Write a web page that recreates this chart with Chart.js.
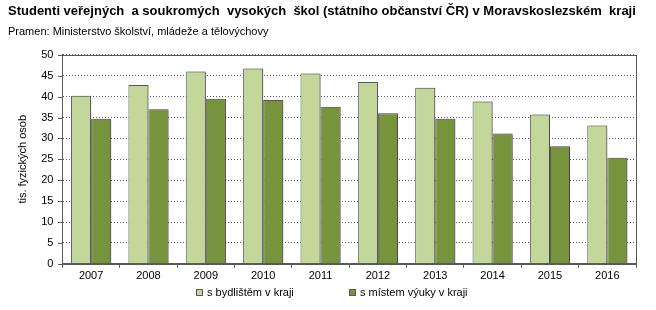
<!DOCTYPE html>
<html>
<head>
<meta charset="utf-8">
<script src="https://cdn.jsdelivr.net/npm/chart.js@4"></script>
<style>
  html, body { margin: 0; padding: 0; background: #fff; }
  #wrap { position: relative; width: 656px; height: 310px; }
  .leg { position: absolute; top: 286px; display: flex; align-items: center;
         font: 11px 'Liberation Sans', Arial, sans-serif; color: #000; white-space: nowrap; }
  .leg i { display: inline-block; width: 5px; height: 5px; border: 1px solid #595959; margin-right: 4px; }
</style>
</head>
<body>
<div id="wrap">
  <canvas id="chart" width="656" height="310"></canvas>
  <div class="leg" style="left:196px"><i id="sw0"></i><span id="lt0"></span></div>
  <div class="leg" style="left:349px"><i id="sw1"></i><span id="lt1"></span></div>
</div>
<script>
// ---------- Data ----------
const years = ["2007", "2008", "2009", "2010", "2011", "2012", "2013", "2014", "2015", "2016"];
const seriesNames = ["s bydlištěm v kraji", "s místem výuky v kraji"];
const residence = [40.2, 42.8, 46.0, 46.7, 45.5, 43.5, 42.1, 38.8, 35.7, 33.1];
const studyPlace = [34.7, 37.0, 39.5, 39.2, 37.6, 36.0, 34.7, 31.2, 28.1, 25.4];
const yTicks = [0, 5, 10, 15, 20, 25, 30, 35, 40, 45, 50];

const FONT = "'Liberation Sans', Arial, sans-serif";
const COLORS = ["#c4d79b", "#77933c"];

// ---------- Legend (HTML) ----------
seriesNames.forEach((name, i) => {
    document.getElementById("sw" + i).style.background = COLORS[i];
    document.getElementById("lt" + i).textContent = name;
});

// ---------- Plot box, y tick marks, bar shadow ----------
const boxPlugin = {
    id: "box",
    beforeDatasetsDraw(chart) {
        const c = chart.ctx;
        c.save();
        c.shadowColor = "rgba(0,0,0,0.28)";
        c.shadowOffsetX = 2;
        c.shadowOffsetY = 0;
        c.shadowBlur = 1;
    },
    afterDatasetsDraw(chart) {
        chart.ctx.restore();
    },
    afterDraw(chart) {
        const { ctx, chartArea: a } = chart;
        const y = chart.scales.y;
        ctx.save();
        ctx.strokeStyle = "#595959";
        ctx.lineWidth = 1;
        ctx.strokeRect(Math.round(a.left) + 0.5, Math.round(a.top) + 0.5,
            Math.round(a.right - a.left), Math.round(a.bottom - a.top));
        ctx.beginPath();
        yTicks.forEach(v => {
            const py = Math.round(y.getPixelForValue(v)) + 0.5;
            ctx.moveTo(Math.round(a.left) - 4, py);
            ctx.lineTo(Math.round(a.left), py);
        });
        ctx.stroke();
        ctx.restore();
    }
};

const ctx = document.getElementById("chart").getContext("2d");

new Chart(ctx, {
    type: "bar",
    data: {
        labels: years,
        datasets: [{
            label: seriesNames[0],
            data: residence,
            backgroundColor: COLORS[0],
            borderColor: "#595959",
            borderWidth: 1
        }, {
            label: seriesNames[1],
            data: studyPlace,
            backgroundColor: COLORS[1],
            borderColor: "#595959",
            borderWidth: 1
        }]
    },
    options: {
        responsive: false,
        animation: false,
        devicePixelRatio: 1,
        layout: { padding: { left: 8, right: 20, top: 4, bottom: 25 } },
        datasets: {
            bar: { categoryPercentage: 0.7, barPercentage: 1.0 }
        },
        plugins: {
            title: {
                display: true,
                text: "Studenti veřejných  a soukromých  vysokých  škol (státního občanství ČR) v Moravskoslezském  kraji",
                align: "start",
                color: "#000",
                font: { family: FONT, size: 13, weight: "bold" },
                padding: { top: 0, bottom: 6 }
            },
            subtitle: {
                display: true,
                text: "Pramen: Ministerstvo školství, mládeže a tělovýchovy",
                align: "start",
                color: "#000",
                font: { family: FONT, size: 11 },
                padding: { top: 0, bottom: 16 }
            },
            legend: { display: false },
            tooltip: { enabled: false }
        },
        scales: {
            x: {
                grid: {
                    offset: true,
                    drawOnChartArea: false,
                    drawTicks: true,
                    tickLength: 4,
                    color: "#595959"
                },
                border: { color: "#595959" },
                ticks: {
                    color: "#000",
                    font: { family: FONT, size: 11 },
                    padding: 2,
                    maxRotation: 0
                }
            },
            y: {
                min: 0,
                max: 50,
                afterBuildTicks(scale) {
                    scale.ticks = yTicks.map(v => ({ value: v }));
                },
                grid: {
                    color: "#595959",
                    drawTicks: false
                },
                border: { color: "#595959", dash: [1, 2] },
                ticks: {
                    color: "#000",
                    font: { family: FONT, size: 11 },
                    padding: 9
                },
                title: {
                    display: true,
                    text: "tis. fyzických osob",
                    color: "#000",
                    font: { family: FONT, size: 11 },
                    padding: { top: 8, bottom: 3 }
                }
            }
        }
    },
    plugins: [boxPlugin]
});
</script>
</body>
</html>
